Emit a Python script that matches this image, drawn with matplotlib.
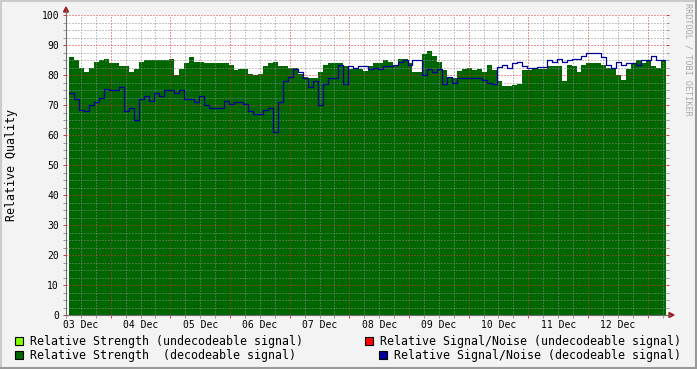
import numpy as np
import matplotlib
matplotlib.use("Agg")
import matplotlib.pyplot as plt
from matplotlib.patches import Rectangle, Polygon
from matplotlib.lines import Line2D
import matplotlib.transforms as mtransforms

# ---------------- data (hours since 03 Dec 00:00, 2-hour samples) -------------
start_hour = 7.4
step_hours = 2.0
end_hour = 247.4

strength_decodeable = [
    86, 85, 82.5, 81, 82.5, 84.5, 85, 85.5, 84, 84,
    83, 83, 81, 82, 84.5, 85, 85, 85, 85, 85,
    85.5, 80, 82, 84, 86, 84.5, 84.5, 84, 84, 84,
    84, 84, 83.5, 81.7, 82, 82, 80.5, 80, 80.5, 83,
    84, 84.5, 83, 83, 82.5, 82.5, 80.5, 79.5, 79, 79,
    81, 83.5, 84, 84, 84, 83, 82, 82, 82, 81.5,
    83, 84, 84, 85, 84.5, 83.5, 85.5, 85.5, 84, 81,
    81, 87, 88, 86.5, 84.5, 81.7, 79.5, 79, 81.5, 82,
    82.5, 81.7, 82, 81, 83.5, 81.7, 78, 76.5, 76.5, 76.7,
    77, 81.7, 81.7, 82, 82, 82, 83, 83, 83, 78,
    83.5, 83, 81, 83.5, 84, 84, 84, 83.5, 82.5, 82,
    80, 78.5, 82, 84, 85, 84, 85, 83, 82.5, 85,
]

snr_decodeable = [
    74, 72, 68.5, 68, 70, 71, 72.5, 75.5, 75, 75,
    76, 68, 69, 65, 72, 73, 71.5, 74, 73, 75,
    75, 74, 75, 72, 72, 71, 73, 70, 69, 69,
    69, 71.5, 70.5, 71, 71, 70.5, 68, 67, 67, 68.5,
    69, 61, 71, 78, 79.5, 82, 81, 79, 76, 78,
    70, 77, 79, 79, 83.5, 77, 83, 82.5, 83, 83,
    82, 82.5, 82, 83, 83, 83.5, 84.5, 85, 83.5, 85,
    85, 80, 82, 81, 82, 77, 79.5, 77.5, 79, 79,
    79, 79, 79, 78.5, 77.5, 77, 82.8, 83.3, 82.2, 84,
    84.5, 83, 82.2, 82.5, 82.8, 82.8, 85, 84.5, 85.5, 84.5,
    85, 85.5, 85.5, 86.5, 87.5, 87.5, 87.5, 86, 83.5, 82.5,
    84.5, 83.5, 84, 84, 83.5, 85, 85, 86.5, 85, 85,
]

day_labels = ["03 Dec", "04 Dec", "05 Dec", "06 Dec", "07 Dec",
              "08 Dec", "09 Dec", "10 Dec", "11 Dec", "12 Dec"]
y_ticks = list(range(0, 101, 10))

legend_items = [
    ("Relative Strength (undecodeable signal)", "#80FF00"),
    ("Relative Signal/Noise (undecodeable signal)", "#FF0000"),
    ("Relative Strength  (decodeable signal)", "#006600"),
    ("Relative Signal/Noise (decodeable signal)", "#000099"),
]

# ---------------- figure ------------------------------------------------------
W, H = 697, 369
MONO = "DejaVu Sans Mono"
plt.rcParams["font.family"] = MONO

fig = plt.figure(figsize=(W / 100, H / 100), dpi=100)
fig.patch.set_facecolor("#F3F3F3")

def fx(px):
    return px / W

def fy(py):
    return 1 - py / H

ax = fig.add_axes([fx(66), fy(315), 600 / W, 300 / H])
ax.set_facecolor("white")
ax.set_xlim(start_hour, end_hour)
ax.set_ylim(0, 100)

n = len(strength_decodeable)
t = start_hour + step_hours * np.arange(n + 1)
g = np.append(strength_decodeable, strength_decodeable[-1])
b = np.append(snr_decodeable, snr_decodeable[-1])

ax.fill_between(t, 0, g, step="post", color="#006600", lw=0, zorder=1)

# grid (drawn over the area like rrdtool)
dash = (0, (1.4, 1.4))
grid_kw = dict(lw=0.72, ls=dash, zorder=2, antialiased=False, alpha=0.5)
for h in np.arange(6, end_hour, 6):
    if h % 24 == 0:
        ax.axvline(h, color="#DE3030", **grid_kw)
    else:
        ax.axvline(h, color="#8F8F8F", **grid_kw)
for v in np.arange(2.5, 100.1, 2.5):
    if v % 10 == 0:
        ax.axhline(v, color="#DE3030", **grid_kw)
    else:
        ax.axhline(v, color="#8F8F8F", **grid_kw)

ax.step(t, b, where="post", color="#000099", lw=0.9, zorder=3)

# ticks
ax.set_xticks(np.arange(24, end_hour, 24))
ax.set_xticks([h for h in np.arange(6, end_hour, 6) if h % 24 != 0], minor=True)
ax.set_xticklabels([])
ax.tick_params(axis="x", which="major", length=2, color="#DE3030", width=0.7)
ax.tick_params(axis="x", which="minor", length=2, color="#999999", width=0.7)
ax.set_yticks(y_ticks)
ax.set_yticks(np.arange(2.5, 100, 2.5), minor=True)
ax.set_yticklabels([str(v) for v in y_ticks], fontsize=7, family=MONO)
ax.tick_params(axis="y", which="major", length=2, color="#DE3030", width=0.7,
               right=True, pad=3)
ax.tick_params(axis="y", which="minor", length=2, color="#999999", width=0.7,
               right=True)

for s in ax.spines.values():
    s.set_visible(False)

# day labels centred at noon
trans = mtransforms.blended_transform_factory(ax.transData, fig.transFigure)
for i, lab in enumerate(day_labels):
    ax.text(12 + 24 * i, fy(324.5), lab, transform=trans, ha="center",
            va="center", fontsize=7, family=MONO, clip_on=False)

# axes lines and arrows
axis_col = "#6E6E6E"
fig.add_artist(Line2D([fx(66), fx(66)], [fy(315), fy(10)], color=axis_col, lw=0.8))
fig.add_artist(Line2D([fx(66), fx(670)], [fy(315), fy(315)], color=axis_col, lw=0.8))
arrow_col = "#A01F1F"
fig.add_artist(Polygon([[fx(63.5), fy(12)], [fx(68.5), fy(12)], [fx(66), fy(7)]],
                       closed=True, color=arrow_col, transform=fig.transFigure))
fig.add_artist(Polygon([[fx(669), fy(312.5)], [fx(669), fy(317.5)], [fx(674), fy(315)]],
                       closed=True, color=arrow_col, transform=fig.transFigure))

# y-axis title
fig.text(fx(12), fy(165), "Relative Quality", rotation=90, ha="center",
         va="center", fontsize=8.4, family=MONO)

# watermark
fig.text(fx(688), fy(3), "RRDTOOL / TOBI OETIKER", rotation=-90, ha="center",
         va="top", fontsize=6.1, family=MONO, color="#A8A8A8")

# legend
positions = [(15, 341), (365, 341), (15, 355), (379, 355)]
for (label, col), (px, py) in zip(legend_items, positions):
    fig.add_artist(Rectangle((fx(px), fy(py + 4)), 8 / W, 8 / H, facecolor=col,
                             edgecolor="black", lw=0.8, transform=fig.transFigure))
    fig.text(fx(px + 15), fy(py), label, ha="left", va="center",
             fontsize=8.4, family=MONO)

# 3D-ish frame
fig.add_artist(Line2D([0, 1], [fy(0.5), fy(0.5)], color="#CBCBCB", lw=1.5))
fig.add_artist(Line2D([fx(0.5), fx(0.5)], [0, 1], color="#CBCBCB", lw=1.5))
fig.add_artist(Line2D([0, 1], [fy(368.2), fy(368.2)], color="#999999", lw=1.5))
fig.add_artist(Line2D([fx(696.2), fx(696.2)], [0, 1], color="#999999", lw=1.5))

fig.savefig("out.png", dpi=100, facecolor=fig.get_facecolor())
